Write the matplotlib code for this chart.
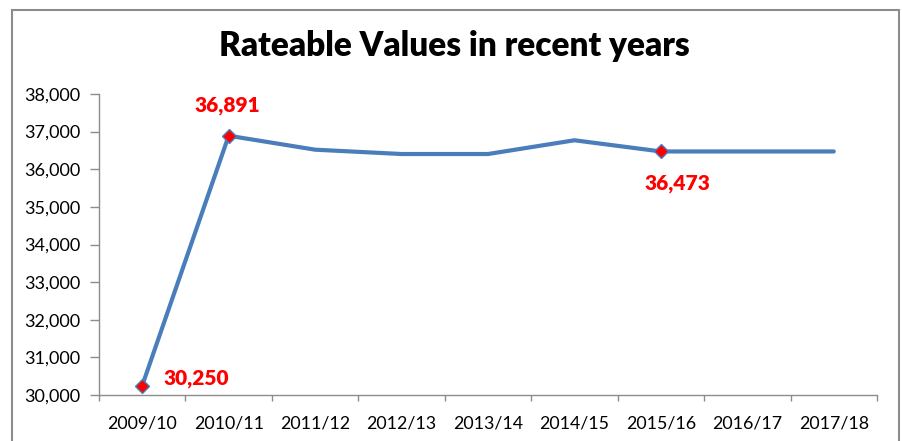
import matplotlib.pyplot as plt
from matplotlib.patches import Rectangle
from matplotlib.ticker import FuncFormatter, FixedLocator

years = ['2009/10', '2010/11', '2011/12', '2012/13', '2013/14',
         '2014/15', '2015/16', '2016/17', '2017/18']
values = [30250, 36891, 36520, 36405, 36405, 36770, 36473, 36473, 36473]
marked = [0, 1, 6]
label_text = ['30,250', '36,891', '36,473']

plt.rcParams['font.family'] = ['Lato', 'DejaVu Sans']

fig = plt.figure(figsize=(9.03, 4.41), dpi=100)
ax = fig.add_axes([99 / 903, 1 - 395 / 441, 778 / 903, 301 / 441])

# chart border (Excel style)
fig.patches.append(Rectangle((12 / 903, -0.05), 887 / 903, 1.05 - 10 / 441,
                             transform=fig.transFigure, fill=False,
                             edgecolor='#8c8c8c', linewidth=1.5))

x = list(range(len(years)))
ax.plot(x, values, color='#4a7ebb', linewidth=3, solid_capstyle='round',
        solid_joinstyle='round', zorder=2)
mx = [x[i] for i in marked]
my = [values[i] for i in marked]
ax.plot(mx, my, linestyle='none', marker='D', markersize=7.5,
        markerfacecolor='#ff0000', markeredgecolor='#4a7ebb',
        markeredgewidth=1.0, zorder=3)

# data labels
ax.annotate(label_text[0], (x[0], values[0]), xytext=(15, 5),
            textcoords='offset points', ha='left', va='center',
            color='red', fontsize=15, fontweight='heavy')
ax.annotate(label_text[1], (x[1], values[1]), xytext=(-1, 22),
            textcoords='offset points', ha='center', va='center',
            color='red', fontsize=15, fontweight='heavy')
ax.annotate(label_text[2], (x[6], values[6]), xytext=(12, -23),
            textcoords='offset points', ha='center', va='center',
            color='red', fontsize=15, fontweight='heavy')

ax.set_xlim(-0.5, len(years) - 0.5)
ax.set_ylim(30000, 38000)
ax.set_xticks(x)
ax.set_xticklabels(years, fontsize=12.8)
ax.xaxis.set_minor_locator(FixedLocator([i - 0.5 for i in range(len(years) + 1)]))
ax.tick_params(axis='x', which='major', length=0, pad=15)
ax.tick_params(axis='x', which='minor', length=4, color='#8c8c8c', width=1)
ax.set_yticks(range(30000, 38001, 1000))
ax.yaxis.set_major_formatter(FuncFormatter(lambda v, p: f'{int(v):,}'))
ax.tick_params(axis='y', length=6.5, color='#8c8c8c', width=1, labelsize=13, pad=7)

for s in ['top', 'right']:
    ax.spines[s].set_visible(False)
for s in ['left', 'bottom']:
    ax.spines[s].set_color('#8c8c8c')
    ax.spines[s].set_linewidth(1)

fig.text(454 / 903, 1 - 46 / 441, 'Rateable Values in recent years',
         ha='center', va='center', fontsize=24, fontweight='heavy')

fig.savefig('out.png', dpi=100)
